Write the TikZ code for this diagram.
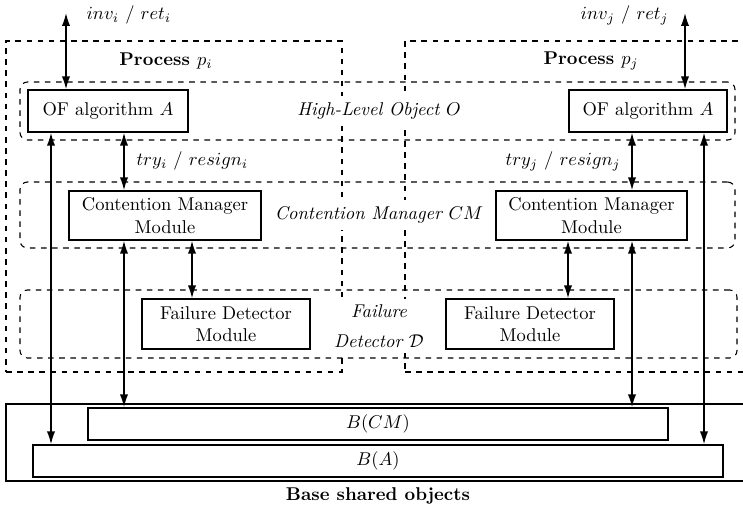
\documentclass[tikz,border=0pt]{standalone}
\usetikzlibrary{arrows.meta,fit}
\begin{document}
\begin{tikzpicture}[x=0.019cm,y=-0.019cm,
  box/.style={draw,thick,inner sep=0pt,align=center},
  region/.style={draw,semithick,dashed,rounded corners=4pt,inner sep=0pt},
  proc/.style={draw,semithick,dashed,inner sep=0pt},
  tag/.style={fill=white,align=center,font=\itshape},
  link/.style={thick,{Latex[length=7pt,width=4.5pt]}-{Latex[length=7pt,width=4.5pt]}}]
\clip (0,0) rectangle (743,511);

% processes
\node[proc, fit={(405,41) (750,372)}] (pj) {};
\node[proc, fit={(6,41) (342,372)}] (pi) {};
\node[font=\bfseries] (pil) at (166,61) {Process $p_i$};
\node[font=\bfseries] (pjl) at (591,61) {Process $p_j$};

% layers
\node[region, fit={(20,82) (735,140)}] (hl) {};
\node[region, fit={(20,182) (735,248)}] (cmr) {};
\node[region, fit={(20,290) (737,358)}] (fdr) {};
\node[tag] (hll) at (379,111) {High-Level Object $O$};
\node[tag] (cml) at (379,215) {Contention Manager $CM$};
\node[tag] (fdl) at (379,326) {Failure\\[4pt]Detector $\mathcal{D}$};

% modules
\node[box, minimum width=3.04cm, minimum height=0.798cm] (ofi) at (108,111) {OF algorithm $A$};
\node[box, minimum width=3.002cm, minimum height=0.798cm] (ofj) at (648,111) {OF algorithm $A$};
\node[box, minimum width=3.648cm, minimum height=0.931cm] (cmi) at (165,215.5) {Contention Manager\\Module};
\node[box, minimum width=3.629cm, minimum height=0.931cm] (cmj) at (591.5,215.5) {Contention Manager\\Module};
\node[box, minimum width=3.192cm, minimum height=0.95cm] (fdi) at (226,324) {Failure Detector\\Module};
\node[box, minimum width=3.192cm, minimum height=0.95cm] (fdj) at (530,324) {Failure Detector\\Module};

% base shared objects
\node[box, fit={(6,404) (750,481)}] (base) {};
\node[box, minimum width=11.02cm, minimum height=0.608cm] (bcm) at (378,424) {$B(CM)$};
\node[box, minimum width=13.11cm, minimum height=0.608cm] (ba) at (378,461) {$B(A)$};
\node[font=\bfseries] (basel) at (378,496) {Base shared objects};

% connector columns
\coordinate (xa) at (51,0);
\coordinate (xb) at (66,13);
\coordinate (xc) at (124,0);
\coordinate (xd) at (192,0);
\coordinate (ya) at (704,0);
\coordinate (yb) at (685,13);
\coordinate (yc) at (632,0);
\coordinate (yd) at (568,0);

\draw[link] (xb) -- (ofi.north -| xb);
\draw[link] (ofi.south -| xa) -- (ba.north -| xa);
\draw[link] (ofi.south -| xc) -- (cmi.north -| xc);
\draw[link] (cmi.south -| xc) -- (bcm.north -| xc);
\draw[link] (cmi.south -| xd) -- (fdi.north -| xd);

\draw[link] (yb) -- (ofj.north -| yb);
\draw[link] (ofj.south -| ya) -- (ba.north -| ya);
\draw[link] (ofj.south -| yc) -- (cmj.north -| yc);
\draw[link] (cmj.south -| yc) -- (bcm.north -| yc);
\draw[link] (cmj.south -| yd) -- (fdj.north -| yd);

% interface labels
\node[anchor=west] (invi) at (80,15) {$inv_i$ / $ret_i$};
\node[anchor=east] (invj) at (675,15) {$inv_j$ / $ret_j$};
\node[anchor=west] (tryi) at (130,161) {$try_i$ / $resign_i$};
\node[anchor=east] (tryj) at (627,161) {$try_j$ / $resign_j$};
\end{tikzpicture}
\end{document}
